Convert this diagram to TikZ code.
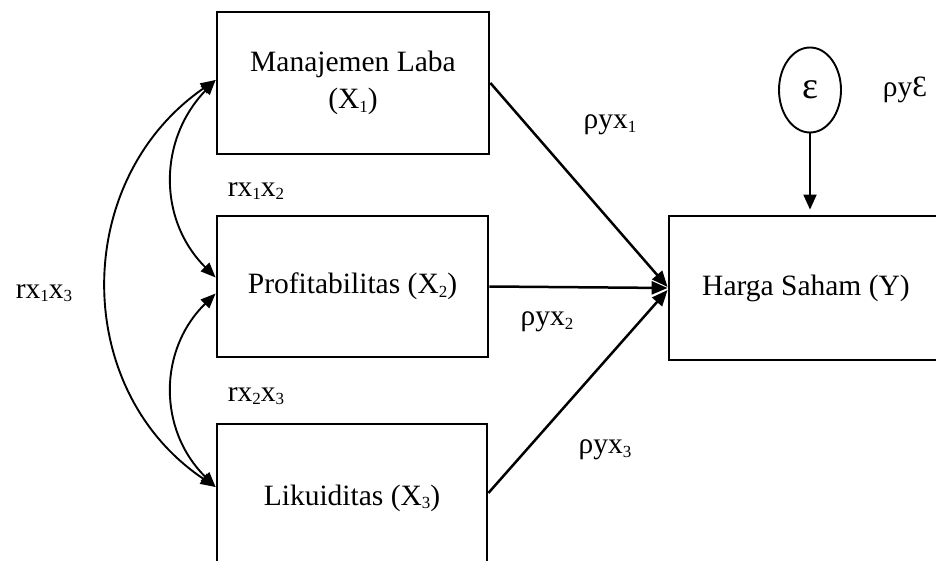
\documentclass[tikz,border=0pt]{standalone}
\usepackage{fontspec}
\setmainfont{Liberation Serif}
\usetikzlibrary{arrows.meta,shapes.geometric}
\newcommand\sbs[1]{\raisebox{-0.12em}{\fontsize{17}{17}\selectfont #1}}
\begin{document}
\begin{tikzpicture}[x=1pt,y=-1pt,
  every node/.style={font=\fontsize{29.5}{37}\selectfont},
  varbox/.style={draw,line width=2.8pt,rectangle,inner sep=0pt,align=center},
  lbl/.style={inner sep=0pt},
  path/.style={line width=2.5pt,-{Triangle[length=16pt,width=13pt]}},
  corr/.style={line width=1.9pt,{Triangle[length=15pt,width=12pt]}-{Triangle[length=15pt,width=12pt]}}]
\useasboundingbox (0,0) rectangle (936,561);
\clip (0,0) rectangle (936,561);
\node[varbox,minimum width=272pt,minimum height=142pt] (b1) at (353,83) {Manajemen Laba\\(X\sbs{1})};
\node[varbox,minimum width=271pt,minimum height=141pt] (b2) at (352.5,286.5) {Profitabilitas (X\sbs{2})};
\node[varbox,minimum width=270pt,minimum height=148pt] (b3) at (352,498) {Likuiditas (X\sbs{3})};
\node[varbox,minimum width=274pt,minimum height=144pt] (y) at (806,288) {Harga Saham (Y)};
\node[draw,ellipse,line width=1.9pt,minimum width=62pt,minimum height=85pt,inner sep=0pt] (e) at (810,90) {\fontsize{38}{38}\selectfont ε};
% labels
\node[lbl] (l1) at (610,125) {ρyx\sbs{1}};
\node[lbl] (l2) at (547,322) {ρyx\sbs{2}};
\node[lbl] (l3) at (605,450) {ρyx\sbs{3}};
\node[lbl] (le) at (905,90) {ρyƐ};
\node[lbl] (r12) at (256,191) {rx\sbs{1}x\sbs{2}};
\node[lbl] (r23) at (256,396) {rx\sbs{2}x\sbs{3}};
\node[lbl] (r13) at (44,293) {rx\sbs{1}x\sbs{3}};
% paths
\draw[path] (b1.east) -- ([yshift=1pt]y.west);
\draw[path] (b2.east) -- (y.west);
\draw[path] ([yshift=5pt]b3.east) -- ([yshift=-2pt]y.west);
\draw[line width=1.9pt,-{Triangle[length=15pt,width=13pt]},shorten >=5pt] (e.south) -- (e.south |- y.north);
% correlations
\draw[corr] ([yshift=3pt]b1.west) .. controls (158,140) and (158,220) .. ([yshift=9pt]b2.west);
\draw[corr] ([yshift=-7pt]b2.west) .. controls (158,350) and (158,430) .. ([yshift=11pt]b3.west);
\draw[corr] ([yshift=3pt]b1.west) .. controls (71,180) and (71,390) .. ([yshift=11pt]b3.west);
\end{tikzpicture}
\end{document}
